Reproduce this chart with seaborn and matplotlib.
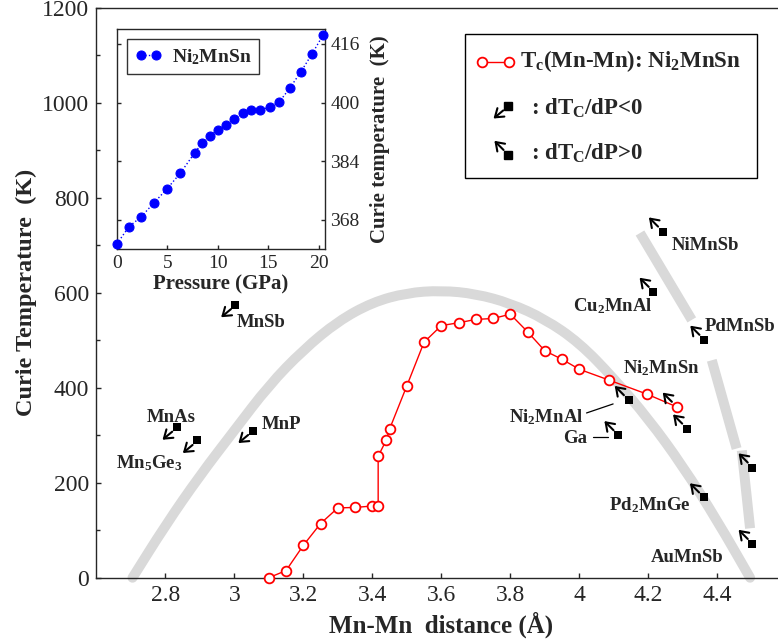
import matplotlib
matplotlib.use("Agg")
import matplotlib.pyplot as plt
import matplotlib.transforms as mtransforms
from matplotlib.patches import Rectangle, PathPatch
from matplotlib.path import Path
from matplotlib.ticker import FormatStrFormatter, MultipleLocator
import seaborn as sns

# Ni2MnSn: Curie temperature versus Mn-Mn separation (compressed lattice)
mnmn_dist = [3.10, 3.15, 3.20, 3.25, 3.30, 3.35, 3.40, 3.417, 3.417, 3.44, 3.45,
             3.50, 3.55, 3.60, 3.65, 3.70, 3.75, 3.80, 3.85, 3.90, 3.95, 4.00,
             4.087, 4.195, 4.282]
tc_mnmn = [0, 15, 68, 114, 147, 148, 151, 152, 256, 289, 313,
           404, 496, 531, 537, 544, 546, 555, 518, 478, 460, 439,
           416, 387, 360]

# Ni2MnSn: Curie temperature versus pressure (inset)
pressure_gpa = [0.0, 1.22, 2.4, 3.66, 4.98, 6.3, 7.74, 8.43, 9.19, 9.98, 10.77,
                11.57, 12.45, 13.3, 14.2, 15.12, 16.08, 17.1, 18.19, 19.3, 20.4]
tc_pressure = [361.4, 366.2, 368.8, 372.6, 376.5, 380.8, 386.4, 388.9, 391.0, 392.6, 393.9,
               395.5, 397.1, 398.0, 398.0, 398.8, 400.2, 403.9, 408.3, 413.2, 418.4]

# Experimental Mn compounds: Mn-Mn distance, Tc and sign of dTc/dP
compound_dist = [3.003, 2.833, 2.892, 3.053, 4.242, 4.215, 4.362, 4.143, 4.113,
                 4.312, 4.361, 4.502, 4.502]
compound_tc = [575, 317, 289, 310, 729, 602, 501, 374, 300, 314, 169, 232, 71]
compound_slope = [-1, -1, -1, -1, 1, 1, 1, 1, 1, 1, 1, 1, 1]

compound_names = ["MnSb", "MnAs", r"Mn$_5$Ge$_3$", "MnP", "NiMnSb", r"Cu$_2$MnAl",
                  "PdMnSb", r"Ni$_2$MnSn", r"Ni$_2$MnAl", "Ga", r"Pd$_2$MnGe", "AuMnSb"]

# Bethe-Slater type guide curve and the Heusler branch
guide_x = [2.705, 2.80, 2.90, 3.00, 3.10, 3.20, 3.30, 3.40, 3.50, 3.60,
           3.70, 3.80, 3.90, 4.00, 4.10, 4.20, 4.30, 4.40, 4.495]
guide_tc = [0, 110, 215, 310, 405, 480, 540, 580, 600, 605,
            598, 578, 545, 495, 420, 335, 235, 120, 0]
branch_segments = [([4.176, 4.326], [726, 543]),
                   ([4.384, 4.456], [458, 272]),
                   ([4.471, 4.495], [268, 104])]

# label anchors (left edge, baseline) in data units
label_anchor = {
    "MnSb": (3.006, 528), "MnAs": (2.7455, 328), r"Mn$_5$Ge$_3$": (2.657, 230),
    "MnP": (3.079, 314), "NiMnSb": (4.268, 691), r"Cu$_2$MnAl": (3.983, 562),
    "PdMnSb": (4.364, 520), r"Ni$_2$MnSn": (4.128, 430), r"Ni$_2$MnAl": (3.796, 328),
    "Ga": (3.952, 284), r"Pd$_2$MnGe": (4.086, 142), "AuMnSb": (4.207, 34),
}

sns.set_style("ticks")
plt.rcParams["font.family"] = ["Liberation Serif", "DejaVu Serif"]
plt.rcParams["mathtext.fontset"] = "custom"
plt.rcParams["mathtext.rm"] = "Liberation Serif:bold"
plt.rcParams["mathtext.it"] = "Liberation Serif:bold"
plt.rcParams["mathtext.bf"] = "Liberation Serif:bold"

W, H = 778, 643
fig = plt.figure(figsize=(W / 100, H / 100), dpi=100)
ax = fig.add_axes([96.3 / W, (H - 577.7) / H, 690 / W, 569.7 / H])

GRAY = "#d9d9d9"


def smooth_guide(xs, ys):
    """Smooth path through the guide points using midpoint quadratic Beziers."""
    pts = list(zip(xs, ys))
    verts = [pts[0]]
    codes = [Path.MOVETO]
    mids = [((pts[i][0] + pts[i + 1][0]) / 2, (pts[i][1] + pts[i + 1][1]) / 2)
            for i in range(len(pts) - 1)]
    verts.append(mids[0])
    codes.append(Path.LINETO)
    for i in range(1, len(pts) - 1):
        verts += [pts[i], mids[i]]
        codes += [Path.CURVE3, Path.CURVE3]
    verts.append(pts[-1])
    codes.append(Path.LINETO)
    return Path(verts, codes)


ax.add_patch(PathPatch(smooth_guide(guide_x, guide_tc), transform=ax.transData,
                       fill=False, edgecolor=GRAY, lw=7.2, capstyle="round",
                       joinstyle="round", zorder=1, clip_on=False))
for sx, sy in branch_segments:
    ax.plot(sx, sy, color=GRAY, lw=7.2, solid_capstyle="butt", zorder=1)

sns.lineplot(x=mnmn_dist, y=tc_mnmn, ax=ax, sort=False, estimator=None,
             color="red", lw=1.0, marker="o", markersize=7,
             markerfacecolor="white", markeredgecolor="red", markeredgewidth=1.3,
             zorder=3, clip_on=False)

sns.scatterplot(x=compound_dist, y=compound_tc, ax=ax, marker="s", color="black",
                s=30, linewidth=0, zorder=4)


def slope_arrow(axis, x, y, sign, transform, z=5):
    if sign > 0:
        tail, head = (-3.4, 3.6), (-10.0, 10.2)
    else:
        tail, head = (-3.2, -3.2), (-10.2, -9.0)
    axis.annotate("", xy=(x, y),
                  xycoords=mtransforms.offset_copy(transform, fig=fig, x=head[0], y=head[1], units="points"),
                  xytext=(x, y),
                  textcoords=mtransforms.offset_copy(transform, fig=fig, x=tail[0], y=tail[1], units="points"),
                  arrowprops=dict(arrowstyle="->,head_length=0.4,head_width=0.28", lw=1.5,
                                  color="black", shrinkA=0, shrinkB=0, mutation_scale=14),
                  annotation_clip=False, zorder=z)


for cx, ct, cs in zip(compound_dist, compound_tc, compound_slope):
    slope_arrow(ax, cx, ct, cs, ax.transData)
slope_arrow(ax, mnmn_dist[-1], tc_mnmn[-1], 1, ax.transData)

for name in compound_names:
    lx, ly = label_anchor[name]
    ax.text(lx, ly, name, fontsize=13.5, fontweight="bold", ha="left", va="baseline", zorder=6)

# leader lines for Ni2MnAl and Ni2MnGa
ax.plot([4.021, 4.098], [347, 366], color="black", lw=0.9, zorder=5)
ax.plot([4.041, 4.084], [296, 296], color="black", lw=0.9, zorder=5)

# legend box
ax.add_patch(Rectangle((0.5343, 0.7016), 0.4232, 0.2528, transform=ax.transAxes,
                       facecolor="white", edgecolor="black", lw=1.0, zorder=6))
ax.plot([0.5586, 0.5986], [0.9047, 0.9047], transform=ax.transAxes, color="red", lw=1.0,
        marker="o", markersize=7, markerfacecolor="white", markeredgecolor="red",
        markeredgewidth=1.3, zorder=7)
ax.text(0.6141, 0.897, r"T$_c$(Mn-Mn): Ni$_2$MnSn", transform=ax.transAxes,
        fontsize=16.5, fontweight="bold", ha="left", va="baseline", zorder=7)
for (sq_x, sq_y, sign, txt, ty) in [(0.5962, 0.828, -1, r": dT$_C$/dP<0", 0.8122),
                                    (0.5971, 0.742, 1, r": dT$_C$/dP>0", 0.7332)]:
    ax.plot([sq_x], [sq_y], "s", color="black", markersize=5.5, transform=ax.transAxes, zorder=7)
    slope_arrow(ax, sq_x, sq_y, sign, ax.transAxes, z=8)
    ax.text(0.6296, ty, txt, transform=ax.transAxes, fontsize=16.5, fontweight="bold",
            ha="left", va="baseline", zorder=7)

ax.set_xlim(2.6, 4.6)
ax.set_ylim(0, 1200)
ax.set_xticks([2.8, 3.0, 3.2, 3.4, 3.6, 3.8, 4.0, 4.2, 4.4])
ax.xaxis.set_major_formatter(FormatStrFormatter("%g"))
ax.set_yticks(range(0, 1201, 200))
ax.yaxis.set_minor_locator(MultipleLocator(100))
ax.tick_params(which="major", direction="in", length=3.6, width=1.0, labelsize=17, pad=5)
ax.tick_params(which="minor", direction="in", length=2.6, width=1.0)
for sp in ax.spines.values():
    sp.set_linewidth(1.0)
ax.set_xlabel("Mn-Mn  distance (Å)", fontsize=18, fontweight="bold", labelpad=4)
ax.set_ylabel("Curie Temperature  (K)", fontsize=17.5, fontweight="bold", labelpad=4)

# inset: Tc of Ni2MnSn under pressure
ax_in = fig.add_axes([116.7 / W, (H - 249.3) / H, 208.3 / W, 220 / H])
ax_in.set_facecolor("white")
sns.lineplot(x=pressure_gpa, y=tc_pressure, ax=ax_in, sort=False, estimator=None,
             color="blue", lw=1.0, linestyle=":", marker="o", markersize=6.5,
             markerfacecolor="blue", markeredgecolor="blue", clip_on=False,
             label=r"Ni$_2$MnSn", zorder=3)
ax_in.set_xlim(0, 20.6)
ax_in.set_ylim(360, 420)
ax_in.set_xticks([0, 5, 10, 15, 20])
ax_in.set_yticks([368, 384, 400, 416])
ax_in.tick_params(direction="in", length=3, width=1.0, labelsize=14,
                  left=True, right=True, labelleft=False, labelright=True, pad=4)
for sp in ax_in.spines.values():
    sp.set_linewidth(1.0)
ax_in.yaxis.set_label_position("right")
ax_in.set_xlabel("Pressure (GPa)", fontsize=15, fontweight="bold", labelpad=2)
ax_in.set_ylabel("Curie temperature  (K)", fontsize=15, fontweight="bold", labelpad=7)
leg = ax_in.legend(loc="upper left", bbox_to_anchor=(0.051, 0.955), borderaxespad=0,
                   frameon=True, fancybox=False, edgecolor="black", numpoints=2,
                   handlelength=1.4, handletextpad=0.5, borderpad=0.4,
                   prop={"weight": "bold", "size": 14})
leg.get_frame().set_linewidth(1.0)

fig.savefig("out.png", dpi=100)
